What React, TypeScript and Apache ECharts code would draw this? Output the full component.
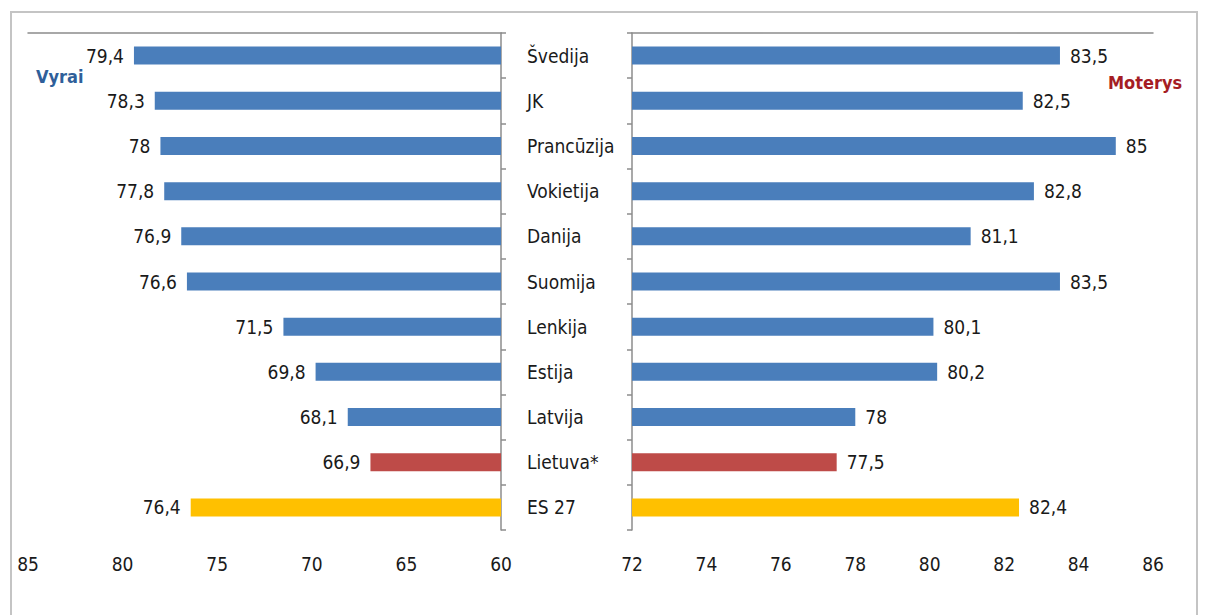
import React, { useEffect, useRef } from "react";
import * as echarts from "echarts";

const categories = ["Švedija", "JK", "Prancūzija", "Vokietija", "Danija", "Suomija", "Lenkija", "Estija", "Latvija", "Lietuva*", "ES 27"];
const men = [79.4, 78.3, 78, 77.8, 76.9, 76.6, 71.5, 69.8, 68.1, 66.9, 76.4];
const women = [83.5, 82.5, 85, 82.8, 81.1, 83.5, 80.1, 80.2, 78, 77.5, 82.4];
const leftTicks = { min: 60, max: 85, interval: 5 };
const rightTicks = { min: 72, max: 86, interval: 2 };

const FONT = "'Liberation Sans Narrow', 'DejaVu Sans Condensed', 'Roboto Condensed', sans-serif";
const BLUE = "#4a7ebb";
const RED = "#be4b48";
const YELLOW = "#ffc000";

const colorFor = (i: number) => (i === 9 ? RED : i === 10 ? YELLOW : BLUE);
const fmt = (v: number) => String(v).replace(".", ",");

export default function App() {
  const ref = useRef<HTMLDivElement>(null);
  useEffect(() => {
    const chart = echarts.init(ref.current!, null, { renderer: "svg" });
    const labelStyle = { fontFamily: FONT, fontSize: 19, color: "#1a1a1a" };
    const axisLineStyle = { color: "#8c8c8c", width: 1.5 };
    chart.setOption({
      animation: false,
      backgroundColor: "#ffffff",
      grid: [
        { left: 28, top: 33, width: 473, height: 497 },
        { left: 632, top: 33, width: 521, height: 497 },
      ],
      xAxis: [
        {
          gridIndex: 0, type: "value", inverse: true, ...leftTicks, position: "bottom",
          axisLine: { show: false }, axisTick: { show: false }, splitLine: { show: false },
          axisLabel: { ...labelStyle, margin: 24 },
        },
        {
          gridIndex: 1, type: "value", ...rightTicks, position: "bottom",
          axisLine: { show: false }, axisTick: { show: false }, splitLine: { show: false },
          axisLabel: { ...labelStyle, margin: 24 },
        },
        {
          gridIndex: 0, type: "value", inverse: true, ...leftTicks, position: "top",
          axisLine: { show: true, lineStyle: axisLineStyle }, axisTick: { show: false },
          splitLine: { show: false }, axisLabel: { show: false },
        },
        {
          gridIndex: 1, type: "value", ...rightTicks, position: "top",
          axisLine: { show: true, lineStyle: axisLineStyle }, axisTick: { show: false },
          splitLine: { show: false }, axisLabel: { show: false },
        },
      ],
      yAxis: [
        {
          gridIndex: 0, type: "category", data: categories, inverse: true, position: "right",
          axisLine: { show: true, lineStyle: axisLineStyle },
          axisTick: { show: true, length: 5, lineStyle: axisLineStyle },
          axisLabel: { fontFamily: FONT, fontSize: 19, color: "#1a1a1a", margin: 26, align: "left" },
        },
        {
          gridIndex: 1, type: "category", data: categories, inverse: true, position: "left",
          axisLine: { show: true, lineStyle: axisLineStyle },
          axisTick: { show: true, length: 5, lineStyle: axisLineStyle },
          axisLabel: { show: false },
        },
      ],
      series: [
        {
          type: "bar", xAxisIndex: 0, yAxisIndex: 0, barWidth: 18,
          data: men.map((v, i) => ({ value: v, itemStyle: { color: colorFor(i) } })),
          label: {
            show: true, position: "left", distance: 10, ...labelStyle,
            formatter: (p: any) => fmt(p.value),
          },
        },
        {
          type: "bar", xAxisIndex: 1, yAxisIndex: 1, barWidth: 18,
          data: women.map((v, i) => ({ value: v, itemStyle: { color: colorFor(i) } })),
          label: {
            show: true, position: "right", distance: 10, ...labelStyle,
            formatter: (p: any) => fmt(p.value),
          },
        },
      ],
      graphic: [
        {
          type: "rect", shape: { x: 11, y: 12, width: 1186, height: 640 },
          style: { fill: "none", stroke: "#c4c4c4", lineWidth: 2 }, silent: true,
        },
        {
          type: "text", x: 36, y: 76,
          style: { text: "Vyrai", fill: "#2f5f9a", font: `bold 18px ${FONT}`, textVerticalAlign: "middle" },
        },
        {
          type: "text", x: 1108, y: 82,
          style: { text: "Moterys", fill: "#a51d24", font: `bold 18px ${FONT}`, textVerticalAlign: "middle" },
        },
      ],
    });
    return () => chart.dispose();
  }, []);
  return <div ref={ref} style={{ position: "fixed", left: 0, top: 0, width: 1208, height: 615 }} />;
}
